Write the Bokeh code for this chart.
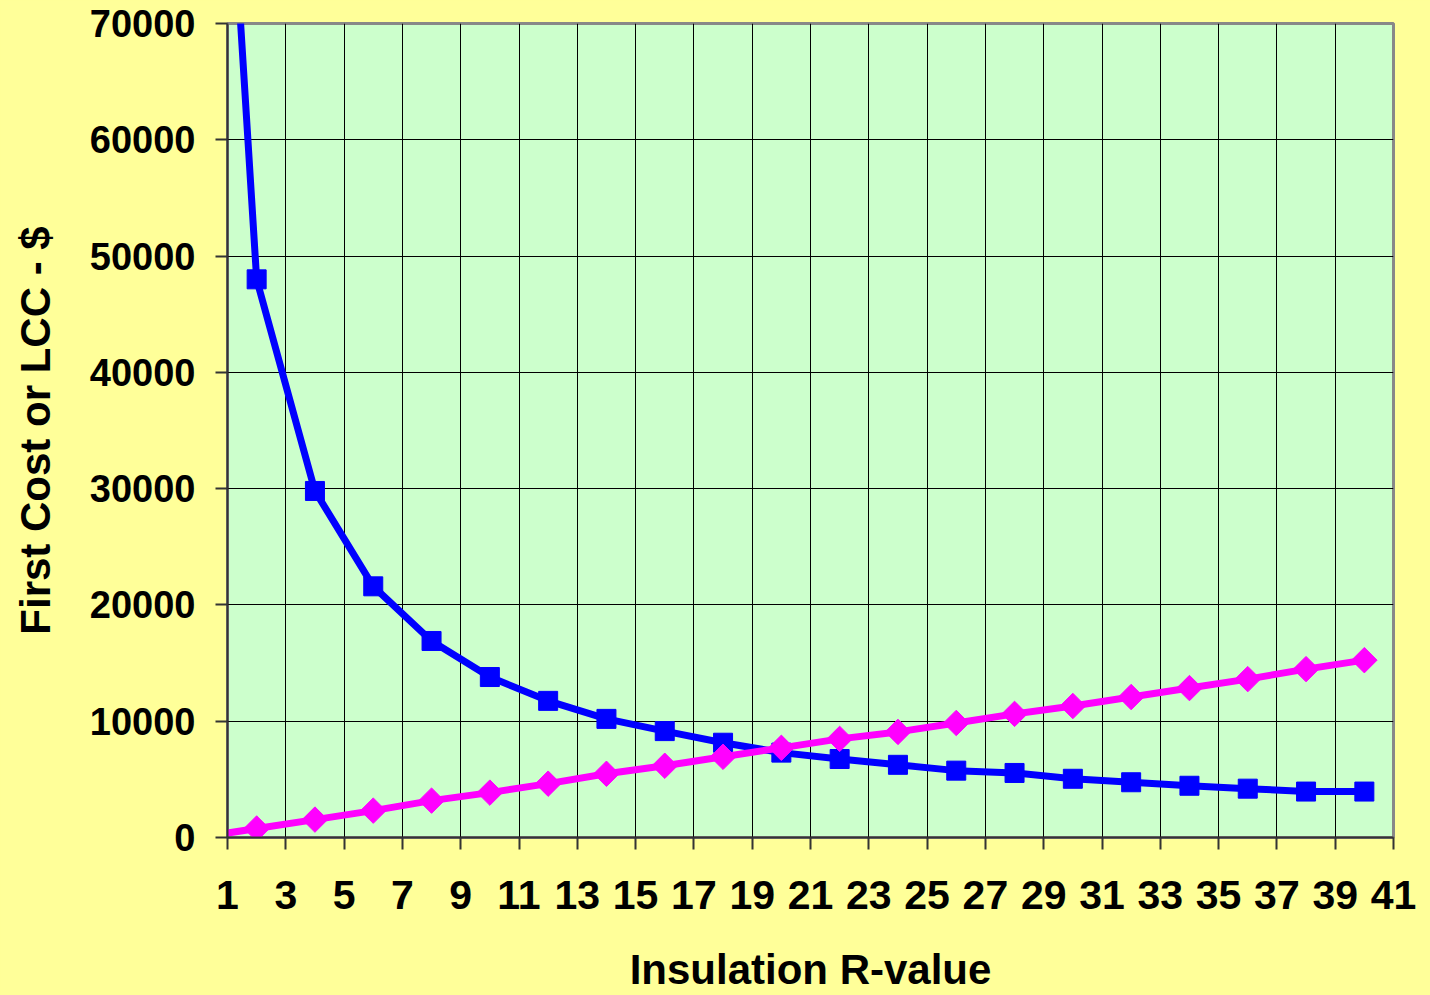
import numpy as np
from bokeh.plotting import figure
from bokeh.models import Range1d, FixedTicker
from bokeh.embed import file_html
from bokeh.resources import INLINE

# ---- data ----
r_lcc = [1, 2, 4, 6, 8, 10, 12, 14, 16, 18, 20, 22, 24, 26, 28, 30, 32, 34, 36, 38, 40]
lcc = [88000, 48000, 29800, 21600, 16900, 13800, 11750, 10200, 9150, 8150, 7300,
       6750, 6250, 5750, 5550, 5050, 4750, 4450, 4200, 3950, 3950]
r_first = [0, 2, 4, 6, 8, 10, 12, 14, 16, 18, 20, 22, 24, 26, 28, 30, 32, 34, 36, 38, 40]
first_cost = [0, 770, 1540, 2310, 3170, 3860, 4630, 5480, 6170, 6940, 7710,
              8480, 9080, 9850, 10630, 11310, 12080, 12850, 13620, 14480, 15250]
x_ticks = list(range(1, 42, 2))
y_ticks = [0, 10000, 20000, 30000, 40000, 50000, 60000, 70000]
x_title = "Insulation R-value"
y_title = "First Cost or LCC - $"

FONT = "Liberation Sans"
YELLOW = "#FFFF99"
GREEN = "#CCFFCC"

p = figure(width=1430, height=995, output_backend="svg", toolbar_location=None,
           x_range=Range1d(1, 41), y_range=Range1d(0, 70000),
           min_border_left=227, min_border_right=37, min_border_top=23,
           min_border_bottom=155)
p.background_fill_color = GREEN
p.border_fill_color = YELLOW
p.outline_line_color = "#888888"
p.outline_line_width = 3

# grid
p.xgrid.ticker = FixedTicker(ticks=x_ticks)
p.ygrid.ticker = FixedTicker(ticks=y_ticks)
for g in (p.xgrid, p.ygrid):
    g.grid_line_color = "#000000"
    g.grid_line_width = 1

# axes
p.xaxis.ticker = FixedTicker(ticks=x_ticks)
p.yaxis.ticker = FixedTicker(ticks=y_ticks)
p.yaxis.formatter.use_scientific = False
for ax in (p.xaxis, p.yaxis):
    ax.axis_line_color = "#333333"
    ax.axis_line_width = 2
    ax.major_tick_line_color = "#333333"
    ax.major_tick_line_width = 2
    ax.major_tick_out = 12
    ax.major_tick_in = 0
    ax.minor_tick_out = 0
    ax.minor_tick_in = 0
    ax.major_label_text_font = FONT
    ax.major_label_text_font_style = "bold"
    ax.major_label_text_color = "#000000"
    ax.axis_label_text_font = FONT
    ax.axis_label_text_font_style = "bold"
    ax.axis_label_text_color = "#000000"
    ax.axis_label_text_font_size = "42px"

p.xaxis.major_label_text_font_size = "41px"
p.xaxis.major_label_standoff = 31
p.xaxis.axis_label = x_title
p.xaxis.axis_label_standoff = 34

p.yaxis.major_label_text_font_size = "38px"
p.yaxis.major_label_standoff = 20
p.yaxis.axis_label = y_title
p.yaxis.axis_label_standoff = 28

# series
p.line(r_lcc, lcc, line_color="#0000FF", line_width=7)
p.scatter(r_lcc, lcc, marker="square", size=19, fill_color="#0000FF",
          line_color="#0000FF")
p.line(r_first, first_cost, line_color="#FF00FF", line_width=7)
p.scatter(r_first, first_cost, marker="square", size=18, angle=np.pi / 4,
          fill_color="#FF00FF", line_color="#FF00FF")

html = file_html(p, INLINE)
html = html.replace("<head>", "<head><style>html, body {background: #FFFF99;}</style>", 1)
open("out.html", "w").write(html)
